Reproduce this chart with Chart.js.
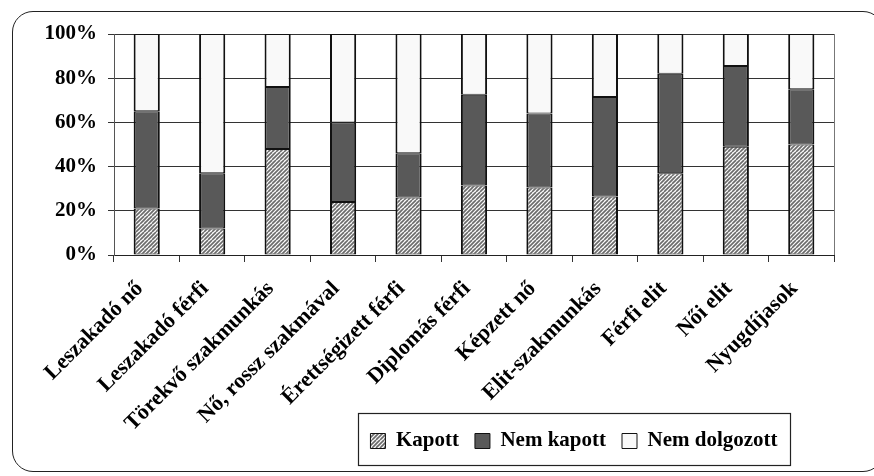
<!DOCTYPE html>
<html>
<head>
<meta charset="utf-8">
<script src="https://cdn.jsdelivr.net/npm/chart.js@4"></script>
<style>
  html, body { margin: 0; padding: 0; background: #fff; overflow: hidden; }
  #wrap { position: relative; width: 874px; height: 476px; }
  #frame {
    position: absolute; left: 12px; top: 11px; width: 870px; height: 459px;
    border: 1.5px solid #222; border-radius: 21px;
  }
  canvas { position: absolute; left: 0; top: 0; }
</style>
</head>
<body>
<div id="wrap">
  <div id="frame"></div>
  <canvas id="myChart" width="874" height="476"></canvas>
</div>
<script>
const categories = ['Leszakadó nő', 'Leszakadó férfi', 'Törekvő szakmunkás', 'Nő, rossz szakmával',
    'Érettségizett férfi', 'Diplomás férfi', 'Képzett nő', 'Elit-szakmunkás', 'Férfi elit', 'Női elit', 'Nyugdíjasok'];
const kapott = [21, 12, 48, 24, 26, 31.5, 30.5, 26.5, 37, 49, 50];
const nemKapott = [44, 25, 28, 36, 20, 41, 33.5, 45, 45, 36.5, 25];
const nemDolgozott = [35, 63, 24, 40, 54, 27.5, 36, 28.5, 18, 14.5, 25];
const yStep = 20;

document.addEventListener('DOMContentLoaded', () => {
    // hatch for "Kapott"
    const tile = document.createElement('canvas');
    tile.width = 8;
    tile.height = 8;
    const t = tile.getContext('2d');
    t.fillStyle = '#fafafa';
    t.fillRect(0, 0, 8, 8);
    t.strokeStyle = '#6a6a6a';
    t.lineWidth = 1.6;
    for (let k = -8; k <= 8; k += 4) {
        t.beginPath();
        t.moveTo(k, 8);
        t.lineTo(k + 8, 0);
        t.stroke();
    }
    const ctx = document.getElementById('myChart');
    const hatch = ctx.getContext('2d').createPattern(tile, 'repeat');

    const serif = 'Liberation Serif, Times New Roman, serif';

    const legendBox = {
        id: 'legendBox',
        afterLayout(chart) {
            const lg = chart.legend;
            const pad = lg.options.labels.padding;
            lg.left = 574 - 300;
            lg.right = 574 + 300;
            lg.width = 600;
            lg.top = 441 - 10.5 - pad;
            lg.bottom = lg.top + lg.height;
        },
        afterDraw(chart) {
            const c = chart.ctx;
            const a = chart.chartArea;
            c.save();
            c.strokeStyle = '#777';
            c.lineWidth = 1;
            c.beginPath();
            c.moveTo(a.right + 0.5, a.top);
            c.lineTo(a.right + 0.5, a.bottom);
            c.stroke();
            c.strokeStyle = '#222';
            c.lineWidth = 1.2;
            c.strokeRect(358.5, 413.5, 432, 52);
            c.restore();
        }
    };

    new Chart(ctx, {
        type: 'bar',
        data: {
            labels: categories,
            datasets: [
                { label: 'Kapott', data: kapott, backgroundColor: hatch },
                { label: 'Nem kapott', data: nemKapott, backgroundColor: '#595959' },
                { label: 'Nem dolgozott', data: nemDolgozott, backgroundColor: '#f9f9f9' }
            ]
        },
        options: {
            responsive: false,
            animation: false,
            datasets: {
                bar: {
                    borderColor: '#111',
                    borderWidth: { left: 2, right: 2, top: 1, bottom: 1 },
                    borderSkipped: false,
                    categoryPercentage: 1,
                    barPercentage: 0.4
                }
            },
            layout: { padding: { left: 12, right: 40, top: 34, bottom: 0 } },
            scales: {
                x: {
                    stacked: true,
                    afterFit: (s) => { s.height = 174; },
                    grid: { drawOnChartArea: false, drawTicks: true, tickLength: 7, color: '#333' },
                    border: { color: '#222', width: 1 },
                    ticks: {
                        minRotation: 45, maxRotation: 45, autoSkip: false,
                        padding: 14, labelOffset: -7,
                        color: '#000', font: { family: serif, size: 22, weight: 'bold' }
                    }
                },
                y: {
                    stacked: true,
                    min: 0,
                    max: 100,
                    afterFit: (s) => { s.width = 102; },
                    grid: { color: '#333', lineWidth: 1, tickLength: 6 },
                    border: { color: '#555', width: 1 },
                    ticks: {
                        stepSize: yStep,
                        padding: 11,
                        color: '#000',
                        font: { family: serif, size: 21, weight: 'bold' },
                        callback: (v) => v + '%'
                    }
                }
            },
            plugins: {
                tooltip: { enabled: false },
                legend: {
                    position: 'bottom',
                    labels: {
                        boxWidth: 15,
                        boxHeight: 15,
                        padding: 16,
                        color: '#000',
                        font: { family: serif, size: 21, weight: 'bold' },
                        generateLabels: (chart) =>
                            Chart.defaults.plugins.legend.labels.generateLabels(chart).map(l => ({ ...l, lineWidth: 1 }))
                    }
                }
            }
        },
        plugins: [legendBox]
    });
});
</script>
</body>
</html>
